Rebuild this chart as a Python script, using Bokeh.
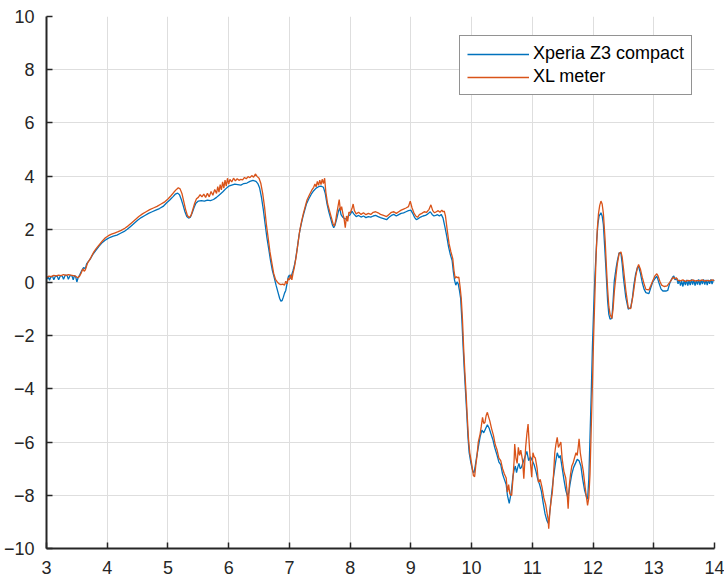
from bokeh.plotting import figure
from bokeh.models import FixedTicker
from bokeh.embed import file_html
from bokeh.resources import INLINE

# ---- data ----
xperia_t = [3.00,3.03,3.05,3.07,3.10,3.12,3.15,3.18,3.20,3.23,3.26,3.28,3.31,3.34,3.36,3.39,3.42,3.44,3.46,3.48,
            3.50,3.52,3.55,3.58,3.61,3.64,3.66,3.70,3.73,3.77,3.81,3.86,3.91,3.96,4.00,4.05,4.10,4.16,4.22,4.28,
            4.33,4.38,4.44,4.50,4.56,4.62,4.68,4.74,4.80,4.86,4.92,4.98,5.03,5.08,5.12,5.16,5.19,5.22,5.25,5.28,
            5.31,5.34,5.37,5.40,5.43,5.46,5.50,5.55,5.60,5.65,5.70,5.75,5.80,5.85,5.90,5.95,6.00,6.05,6.10,6.15,
            6.20,6.25,6.30,6.35,6.40,6.45,6.48,6.51,6.54,6.57,6.60,6.63,6.66,6.69,6.72,6.75,6.78,6.81,6.84,6.86,
            6.88,6.90,6.92,6.94,6.96,6.98,7.00,7.02,7.04,7.06,7.08,7.10,7.13,7.16,7.19,7.22,7.25,7.28,7.32,7.36,
            7.40,7.44,7.48,7.52,7.56,7.59,7.62,7.65,7.68,7.71,7.73,7.75,7.78,7.81,7.83,7.85,7.88,7.91,7.94,7.97,
            8.00,8.03,8.06,8.10,8.14,8.18,8.22,8.26,8.30,8.34,8.38,8.42,8.46,8.50,8.55,8.60,8.64,8.68,8.72,8.76,
            8.80,8.84,8.88,8.92,8.96,9.00,9.03,9.06,9.09,9.12,9.16,9.20,9.24,9.28,9.32,9.35,9.38,9.41,9.44,9.47,
            9.50,9.53,9.56,9.59,9.62,9.65,9.68,9.70,9.72,9.74,9.76,9.78,9.80,9.82,9.84,9.86,9.88,9.90,9.92,9.94,
            9.96,9.99,10.02,10.04,10.06,10.08,10.11,10.14,10.17,10.20,10.23,10.26,10.29,10.32,10.35,10.38,10.42,10.45,10.48,10.51,
            10.54,10.57,10.59,10.62,10.64,10.66,10.68,10.70,10.72,10.74,10.76,10.78,10.80,10.82,10.85,10.88,10.91,10.94,10.97,11.00,
            11.03,11.06,11.09,11.12,11.15,11.18,11.21,11.24,11.26,11.28,11.30,11.32,11.35,11.38,11.41,11.44,11.46,11.49,11.52,11.55,
            11.58,11.60,11.62,11.65,11.68,11.71,11.74,11.77,11.80,11.83,11.86,11.89,11.91,11.93,11.95,11.97,11.99,12.01,12.03,12.06,
            12.08,12.10,12.13,12.15,12.17,12.19,12.21,12.24,12.26,12.28,12.31,12.33,12.35,12.38,12.40,12.43,12.46,12.48,12.50,12.54,
            12.58,12.62,12.65,12.67,12.70,12.73,12.75,12.78,12.81,12.84,12.87,12.92,12.95,12.98,13.02,13.05,13.07,13.09,13.12,13.15,
            13.20,13.23,13.26,13.28,13.31,13.33,13.35,13.38,13.40,13.42,13.44,13.46,13.48,13.50,13.52,13.54,13.56,13.58,13.60,13.62,
            13.64,13.66,13.68,13.70,13.72,13.74,13.76,13.78,13.80,13.82,13.84,13.86,13.88,13.90,13.92,13.94,13.96,13.98,14.00]
xperia_v = [0.12,0.22,0.08,0.20,0.24,0.10,0.25,0.22,0.10,0.26,0.24,0.12,0.28,0.26,0.12,0.27,0.25,0.10,0.26,0.22,
            0.02,0.18,0.30,0.45,0.56,0.52,0.70,0.82,0.92,1.08,1.20,1.35,1.48,1.58,1.64,1.70,1.74,1.78,1.85,1.92,
            2.00,2.10,2.22,2.34,2.44,2.52,2.60,2.66,2.72,2.78,2.86,3.00,3.10,3.22,3.32,3.36,3.30,3.12,2.90,2.66,
            2.48,2.42,2.46,2.62,2.82,2.98,3.06,3.08,3.06,3.10,3.08,3.12,3.20,3.30,3.40,3.52,3.62,3.66,3.70,3.68,
            3.66,3.72,3.74,3.80,3.84,3.80,3.72,3.55,3.20,2.75,2.20,1.68,1.25,0.81,0.45,0.18,-0.10,-0.35,-0.60,-0.70,
            -0.68,-0.55,-0.40,-0.30,-0.05,0.20,0.28,0.15,0.30,0.45,0.62,0.85,1.30,1.80,2.15,2.45,2.70,2.95,3.15,3.32,
            3.45,3.55,3.60,3.62,3.58,3.35,2.95,2.65,2.40,2.15,2.06,2.15,2.40,2.70,2.80,2.55,2.45,2.40,2.38,2.50,
            2.55,2.68,2.58,2.48,2.52,2.46,2.50,2.44,2.48,2.46,2.50,2.52,2.48,2.44,2.40,2.36,2.45,2.52,2.56,2.50,
            2.55,2.60,2.62,2.66,2.70,2.72,2.60,2.45,2.36,2.40,2.46,2.50,2.52,2.58,2.66,2.56,2.50,2.52,2.55,2.50,
            2.56,2.42,2.10,1.75,1.35,1.05,0.82,0.40,0.08,-0.10,0.02,-0.05,-0.30,-0.60,-1.40,-2.40,-3.30,-4.10,-4.90,-5.80,
            -6.40,-6.80,-7.10,-7.15,-6.90,-6.60,-6.20,-5.80,-5.55,-5.65,-5.50,-5.35,-5.48,-5.70,-5.90,-6.20,-6.50,-6.75,-6.85,-7.20,
            -7.40,-7.60,-8.00,-8.30,-8.05,-7.75,-7.30,-7.05,-6.90,-7.15,-6.95,-6.80,-7.00,-6.95,-6.75,-6.55,-6.35,-6.70,-6.55,-6.70,
            -6.85,-7.10,-7.40,-7.60,-7.85,-8.30,-8.70,-8.95,-9.05,-8.80,-8.35,-7.90,-7.30,-6.80,-6.40,-6.60,-6.50,-6.95,-7.40,-7.80,
            -8.05,-7.90,-7.60,-7.20,-6.95,-6.80,-6.65,-6.70,-6.90,-7.40,-7.80,-8.05,-8.15,-7.40,-5.80,-4.20,-2.40,-1.00,0.20,1.56,
            2.20,2.50,2.62,2.50,2.18,1.40,0.60,-0.69,-1.20,-1.38,-1.35,-0.70,0.06,0.55,0.81,1.12,1.08,0.70,0.18,-0.57,
            -1.00,-0.95,-0.55,-0.13,0.30,0.56,0.60,0.35,0.00,-0.25,-0.38,-0.42,-0.20,0.00,0.15,0.24,0.10,-0.05,-0.25,-0.32,
            -0.32,-0.30,-0.05,0.06,0.20,0.25,0.10,0.15,-0.05,0.10,-0.12,0.05,-0.15,0.08,-0.10,0.10,-0.12,0.08,-0.10,0.12,
            -0.08,0.10,-0.12,0.08,-0.08,0.12,-0.10,0.10,-0.06,0.12,-0.08,0.10,-0.10,0.10,-0.05,0.12,-0.06,0.10,0.05]

xl_t = [3.00,3.04,3.08,3.12,3.16,3.20,3.24,3.28,3.32,3.36,3.40,3.44,3.48,3.51,3.54,3.57,3.60,3.62,3.64,3.66,
        3.68,3.71,3.74,3.78,3.82,3.87,3.92,3.97,4.02,4.07,4.12,4.17,4.23,4.29,4.34,4.40,4.46,4.52,4.58,4.64,
        4.70,4.76,4.82,4.88,4.94,5.00,5.05,5.10,5.14,5.17,5.20,5.23,5.26,5.29,5.32,5.35,5.38,5.41,5.44,5.47,
        5.50,5.53,5.56,5.59,5.62,5.65,5.68,5.71,5.74,5.77,5.80,5.82,5.84,5.86,5.88,5.90,5.92,5.94,5.96,5.98,
        6.00,6.02,6.05,6.08,6.11,6.14,6.17,6.20,6.23,6.26,6.29,6.32,6.35,6.38,6.41,6.44,6.47,6.50,6.53,6.56,
        6.59,6.62,6.65,6.68,6.71,6.74,6.77,6.80,6.83,6.86,6.89,6.92,6.94,6.96,6.98,7.00,7.02,7.04,7.06,7.08,
        7.11,7.14,7.17,7.20,7.23,7.26,7.29,7.33,7.37,7.40,7.42,7.44,7.46,7.48,7.50,7.52,7.54,7.56,7.58,7.60,
        7.63,7.66,7.69,7.72,7.74,7.76,7.78,7.80,7.82,7.84,7.86,7.88,7.90,7.92,7.94,7.96,7.98,8.00,8.03,8.05,
        8.07,8.10,8.14,8.18,8.22,8.26,8.30,8.34,8.38,8.42,8.46,8.50,8.55,8.60,8.64,8.68,8.72,8.76,8.80,8.84,
        8.88,8.92,8.96,8.99,9.02,9.05,9.08,9.11,9.14,9.18,9.22,9.26,9.30,9.33,9.36,9.39,9.42,9.45,9.48,9.51,
        9.53,9.55,9.57,9.60,9.63,9.66,9.69,9.71,9.73,9.75,9.77,9.79,9.81,9.83,9.85,9.87,9.89,9.91,9.93,9.95,
        9.97,10.00,10.03,10.05,10.07,10.09,10.11,10.14,10.16,10.18,10.20,10.22,10.24,10.26,10.28,10.30,10.33,10.36,10.39,10.42,
        10.45,10.48,10.51,10.54,10.57,10.59,10.61,10.63,10.66,10.68,10.70,10.71,10.73,10.75,10.77,10.79,10.81,10.84,10.86,10.89,
        10.91,10.93,10.95,10.97,10.99,11.01,11.03,11.05,11.08,11.10,11.13,11.16,11.19,11.22,11.24,11.26,11.27,11.29,11.31,11.33,
        11.35,11.37,11.39,11.41,11.43,11.45,11.47,11.49,11.52,11.55,11.57,11.59,11.61,11.63,11.65,11.67,11.70,11.72,11.74,11.76,
        11.77,11.79,11.81,11.84,11.87,11.89,11.91,11.93,11.95,11.97,11.99,12.01,12.03,12.05,12.07,12.09,12.11,12.13,12.15,12.17,
        12.20,12.22,12.24,12.26,12.28,12.31,12.33,12.35,12.38,12.40,12.43,12.46,12.48,12.50,12.54,12.58,12.62,12.65,12.67,12.70,
        12.73,12.75,12.78,12.81,12.84,12.87,12.92,12.95,12.98,13.02,13.05,13.07,13.10,13.13,13.17,13.22,13.26,13.29,13.32,13.34,
        13.37,13.40,13.44,13.48,13.52,13.56,13.60,13.64,13.68,13.72,13.76,13.80,13.84,13.88,13.92,13.96,14.00]
xl_v = [0.18,0.24,0.22,0.27,0.25,0.28,0.26,0.30,0.27,0.30,0.28,0.26,0.24,0.18,0.22,0.35,0.52,0.42,0.48,0.62,
        0.75,0.85,0.98,1.15,1.28,1.42,1.56,1.68,1.76,1.82,1.86,1.90,1.96,2.04,2.12,2.24,2.36,2.48,2.58,2.66,
        2.74,2.80,2.86,2.94,3.02,3.14,3.26,3.40,3.50,3.56,3.52,3.35,3.05,2.75,2.52,2.44,2.52,2.75,2.98,3.15,
        3.20,3.30,3.22,3.32,3.20,3.35,3.22,3.42,3.28,3.50,3.35,3.60,3.40,3.68,3.48,3.78,3.55,3.85,3.62,3.92,
        3.70,3.88,3.78,3.92,3.82,3.90,3.84,3.88,3.86,3.95,3.90,3.98,3.94,4.02,3.96,4.08,3.98,3.92,3.72,3.35,
        2.85,2.20,1.68,1.15,0.75,0.35,0.12,0.02,-0.05,-0.08,-0.06,-0.10,0.05,-0.05,0.15,0.10,0.30,0.10,0.35,0.55,
        0.95,1.45,1.95,2.30,2.60,2.85,3.10,3.30,3.48,3.58,3.70,3.60,3.80,3.65,3.85,3.68,3.88,3.72,3.92,3.40,
        2.95,2.70,2.45,2.20,2.12,2.30,2.60,2.85,3.12,2.70,2.85,2.60,2.40,2.06,2.50,2.30,2.65,2.60,2.78,2.95,
        2.70,2.58,2.64,2.56,2.62,2.55,2.60,2.56,2.64,2.66,2.62,2.56,2.52,2.48,2.56,2.64,2.66,2.60,2.66,2.72,
        2.76,2.80,2.85,3.06,2.80,2.62,2.50,2.45,2.55,2.60,2.66,2.64,2.75,2.92,2.70,2.62,2.66,2.70,2.64,2.72,
        2.66,2.68,2.50,1.95,1.45,1.15,0.90,0.45,0.16,0.22,0.18,0.20,-0.15,-0.60,-1.40,-2.50,-3.40,-4.20,-5.10,-5.90,
        -6.40,-6.80,-7.26,-7.30,-6.85,-6.50,-6.00,-5.70,-5.40,-5.07,-5.30,-5.26,-5.00,-4.88,-5.05,-5.20,-5.50,-5.75,-6.10,-6.30,
        -6.60,-6.70,-7.00,-7.20,-7.35,-7.88,-7.60,-7.95,-8.01,-7.40,-6.70,-6.07,-6.60,-6.80,-6.20,-6.50,-6.30,-6.70,-7.38,-6.20,
        -5.70,-5.32,-6.10,-6.80,-7.32,-6.40,-6.55,-6.60,-7.00,-7.51,-7.40,-7.70,-8.10,-8.35,-8.63,-8.90,-9.26,-8.60,-8.20,-7.88,
        -7.20,-6.40,-6.07,-5.82,-6.20,-6.10,-6.00,-6.60,-7.10,-7.35,-7.80,-8.50,-7.60,-7.20,-6.90,-6.80,-6.55,-6.40,-6.50,-6.10,
        -5.88,-6.40,-6.70,-7.10,-7.70,-8.05,-8.38,-8.10,-7.20,-5.50,-3.80,-2.00,-0.50,1.00,2.00,2.60,2.90,3.06,2.95,2.60,
        1.56,0.60,-0.25,-0.90,-1.19,-1.35,-1.00,-0.35,0.30,0.70,1.10,1.15,0.95,0.55,-0.30,-0.95,-0.98,-0.60,-0.30,0.20,
        0.55,0.68,0.50,0.20,-0.05,-0.26,-0.28,-0.12,0.05,0.25,0.33,0.25,0.05,-0.10,-0.15,-0.13,0.00,0.10,0.20,0.14,
        0.18,0.08,0.06,0.10,0.04,0.08,0.06,0.10,0.05,0.08,0.06,0.10,0.05,0.08,0.06,0.10,0.07]

x_ticks = [3, 4, 5, 6, 7, 8, 9, 10, 11, 12, 13, 14]
y_ticks = [-10, -8, -6, -4, -2, 0, 2, 4, 6, 8, 10]
series_names = ["Xperia Z3 compact", "XL meter"]
series_colors = ["#0072BD", "#D95319"]

# ---- figure ----
p = figure(width=724, height=579, x_range=(3, 14), y_range=(-10, 10),
           output_backend="svg", toolbar_location=None,
           min_border_left=46, min_border_right=10, min_border_top=16, min_border_bottom=31)
p.outline_line_color = None
p.background_fill_color = "white"

p.line(xperia_t, xperia_v, line_color=series_colors[0], line_width=1.3, legend_label=series_names[0])
p.line(xl_t, xl_v, line_color=series_colors[1], line_width=1.3, legend_label=series_names[1])

axis_col = "#262626"
p.xaxis.ticker = FixedTicker(ticks=x_ticks)
p.yaxis.ticker = FixedTicker(ticks=y_ticks)
for ax in (p.xaxis, p.yaxis):
    ax.axis_line_color = axis_col
    ax.axis_line_width = 2
    ax.major_tick_line_color = axis_col
    ax.major_tick_line_width = 1.5
    ax.major_tick_in = 6
    ax.major_tick_out = 0
    ax.minor_tick_line_color = None
    ax.major_label_text_font = "Liberation Sans"
    ax.major_label_text_font_size = "18px"
    ax.major_label_text_color = axis_col
p.xaxis.major_label_standoff = 12
p.yaxis.major_label_standoff = 12

p.xgrid.grid_line_color = "#dedede"
p.ygrid.grid_line_color = "#dedede"
p.xgrid.grid_line_width = 1
p.ygrid.grid_line_width = 1

lg = p.legend[0]
lg.location = (413, 453)
lg.label_text_font = "Liberation Sans"
lg.label_text_font_size = "18px"
lg.label_text_color = "#000000"
lg.border_line_color = axis_col
lg.border_line_width = 1
lg.background_fill_color = "white"
lg.background_fill_alpha = 1
lg.padding = 7
lg.margin = 0
lg.spacing = 2
lg.glyph_width = 62
lg.glyph_height = 20
lg.label_height = 20
lg.label_standoff = 4

open("out.html", "w").write(file_html(p, INLINE))
